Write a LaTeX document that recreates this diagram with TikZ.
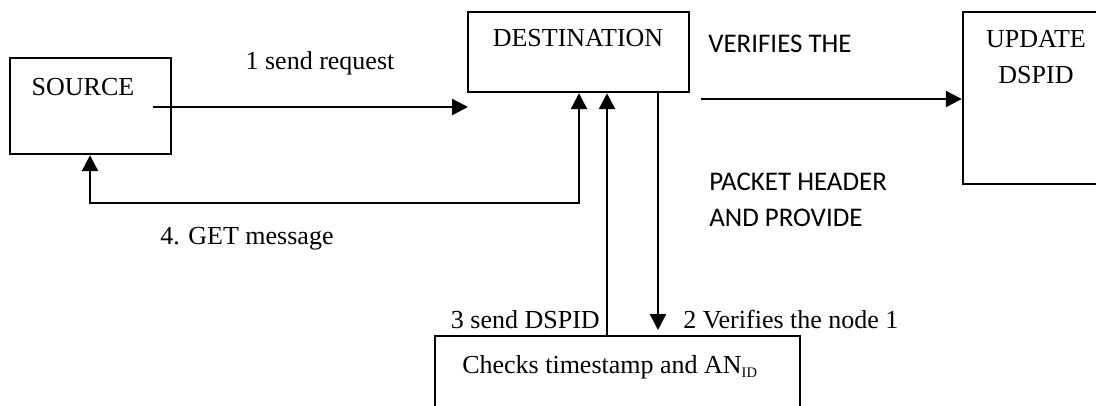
\documentclass[tikz,border=0pt]{standalone}
\usepackage{fontspec}
\setmainfont{Liberation Serif}
\newfontfamily\calfont{Carlito}
\usetikzlibrary{arrows.meta,fit}
\begin{document}
\begin{tikzpicture}[x=0.75pt,y=-0.75pt,
  box/.style={draw,line width=1.8pt,inner sep=0pt},
  lbl/.style={inner sep=0pt,font=\fontsize{19.5}{23}\selectfont},
  sans/.style={inner sep=0pt,anchor=west,font=\calfont\fontsize{20.2}{24}\selectfont},
  con/.style={line width=1.8pt,-{Triangle[length=12pt,width=12pt]}},
  con2/.style={line width=1.8pt,{Triangle[length=12pt,width=12pt]}-{Triangle[length=12pt,width=12pt]}}]
\useasboundingbox (0,0) rectangle (1096,405);
\clip (0,0) rectangle (1096,405);
% boxes
\node[box,fit={(10,58) (171,154)}] (src) {};
\node[box,fit={(468,12) (689,92)}] (dst) {};
\node[box,fit={(963,12) (1120,184)}] (upd) {};
\node[box,fit={(435,336) (800,430)}] (chk) {};
% box texts
\node[lbl] (srct) at (83,87) {SOURCE};
\node[lbl] (dstt) at (578,38) {DESTINATION};
\node[lbl] (updt1) at (1036,39) {UPDATE};
\node[lbl] (updt2) at (1036,75) {DSPID};
\node[lbl] (chkt) at (610,367) {Checks timestamp and AN\textsubscript{\scalebox{0.8}{ID}}};
% side texts
\node[sans] (v1) at (708,44) {VERIFIES THE};
\node[sans] (v2) at (709,182) {PACKET HEADER};
\node[sans] (v3) at (709,218) {AND PROVIDE};
% labels
\node[lbl] (l1) at (320,63) {1 send request};
\node[lbl,anchor=west] (l4) at (160,239) {4. GET message};
\node[lbl,anchor=east] (l3) at (600,320) {3 send DSPID};
\node[lbl,anchor=west] (l2) at (683,320) {2 Verifies the node 1};
% connectors
\coordinate (a1s) at (153,107);
\coordinate (a1e) at (468,107);
\draw[con] (a1s) -- (a1e);
\coordinate (g1) at (579,203);
\coordinate (g2) at (90,203);
\draw[con2] (dst.south -| g1) -- (g1) -- (g2) -- (src.south -| g2);
\coordinate (s3) at (607,336);
\draw[con] (chk.north -| s3) -- (dst.south -| s3);
\coordinate (v2e) at (658,330);
\draw[con] (dst.south -| v2e) -- (v2e);
\coordinate (r1) at (701,99);
\draw[con] (r1) -- (upd.west |- r1);
\end{tikzpicture}
\end{document}
